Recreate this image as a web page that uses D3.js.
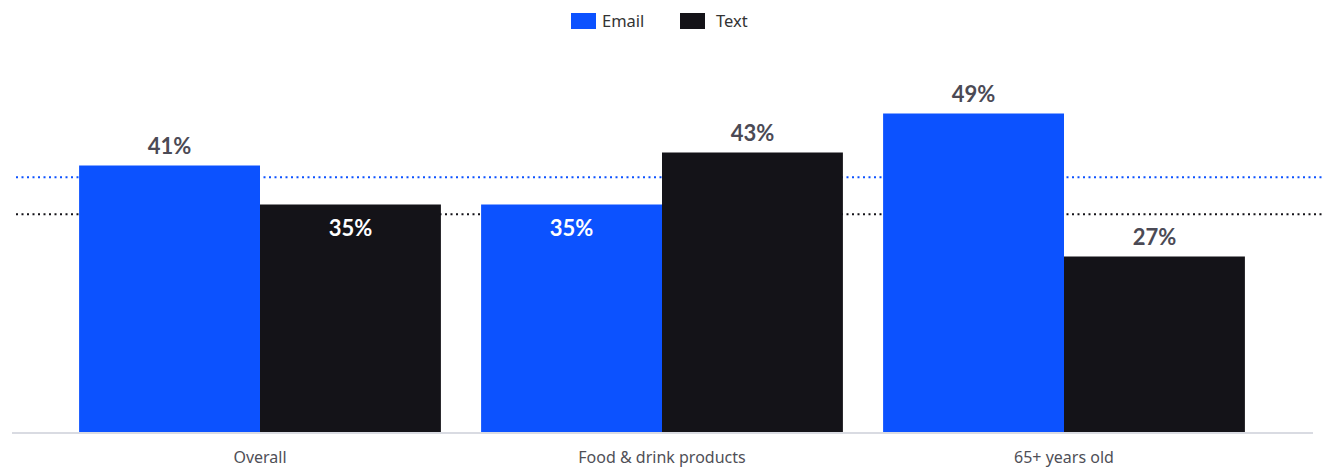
<!DOCTYPE html>
<html>
<head>
<meta charset="utf-8">
<script src="https://cdn.jsdelivr.net/npm/d3@7"></script>
<style>
  body { margin: 0; background: #fff; }
  svg { display: block; font-family: Lato, "Open Sans", sans-serif; }
</style>
</head>
<body>
<svg class="chart" width="1328" height="468"></svg>
<script>
// data
const categories = ["Overall", "Food & drink products", "65+ years old"];
const seriesNames = ["Email", "Text"];
const emailValues = [41, 35, 49];
const textValues = [35, 43, 27];
const refValues = [39.2, 33.5]; // dotted benchmark lines (email, text)
const colors = ["#0c52ff", "#141318"];

let svg = d3.select("svg.chart");

const base = 432;
let x = d3.scaleBand()
  .domain(categories)
  .range([59, 1265])
  .paddingInner(0.1)
  .paddingOuter(0.05);

let xs = d3.scaleBand()
  .domain(seriesNames)
  .range([0, x.bandwidth()]);

let y = d3.scaleLinear()
  .domain([0, 60])
  .range([base, base - 390]);

let color = d3.scaleOrdinal().domain(seriesNames).range(colors);

// rows for the bars
let rows = [];
categories.forEach((c, i) => {
  rows.push({cat: c, s: "Email", v: emailValues[i]});
  rows.push({cat: c, s: "Text", v: textValues[i]});
});

// reference lines
svg.append("g")
  .selectAll("line")
  .data(refValues)
  .enter()
  .append("line")
    .attr("x1", 16)
    .attr("x2", 1324)
    .attr("y1", d => y(d))
    .attr("y2", d => y(d))
    .attr("stroke", (d, i) => colors[i])
    .attr("stroke-width", 2)
    .attr("stroke-dasharray", "2,3.5");

// bars
svg.append("g")
  .selectAll("rect")
  .data(rows)
  .enter()
  .append("rect")
    .attr("x", d => x(d.cat) + xs(d.s))
    .attr("y", d => y(d.v))
    .attr("width", xs.bandwidth())
    .attr("height", d => base - y(d.v))
    .attr("fill", d => color(d.s));

// value labels: inside the bar when an outside label would hit a benchmark line
function inside(d) {
  let top = y(d.v);
  return refValues.some(r => {
    let ry = y(r);
    return ry > top - 34 && ry < top + 4;
  });
}

svg.append("g")
  .selectAll("text")
  .data(rows)
  .enter()
  .append("text")
    .attr("x", d => x(d.cat) + xs(d.s) + xs.bandwidth() / 2)
    .attr("y", d => inside(d) ? y(d.v) + 31 : y(d.v) - 12)
    .attr("text-anchor", "middle")
    .attr("font-size", 22)
    .attr("font-weight", 700)
    .attr("fill", d => inside(d) ? "#ffffff" : "#4b4a55")
    .text(d => d.v + "%");

// baseline
svg.append("line")
  .attr("x1", 12)
  .attr("x2", 1313)
  .attr("y1", base + 1)
  .attr("y2", base + 1)
  .attr("stroke", "#d9dbe2")
  .attr("stroke-width", 2);

// category labels
svg.append("g")
  .selectAll("text")
  .data(categories)
  .enter()
  .append("text")
    .attr("x", d => x(d) + x.bandwidth() / 2)
    .attr("y", 463)
    .attr("text-anchor", "middle")
    .attr("font-family", "'Noto Sans', sans-serif")
    .attr("font-size", 16)
    .attr("fill", "#4f4f57")
    .text(d => d);

// legend
let legend = svg.append("g")
  .selectAll("g")
  .data(seriesNames)
  .enter()
  .append("g")
    .attr("transform", (d, i) => `translate(${571 + i * 109},13)`);

legend.append("rect")
  .attr("width", 25)
  .attr("height", 16)
  .attr("fill", d => color(d));

legend.append("text")
  .attr("x", d => d == "Email" ? 31 : 36)
  .attr("y", 14)
  .attr("font-family", "'Noto Sans', sans-serif")
  .attr("font-size", 16.5)
  .attr("fill", "#333")
  .text(d => d);
</script>
</body>
</html>
